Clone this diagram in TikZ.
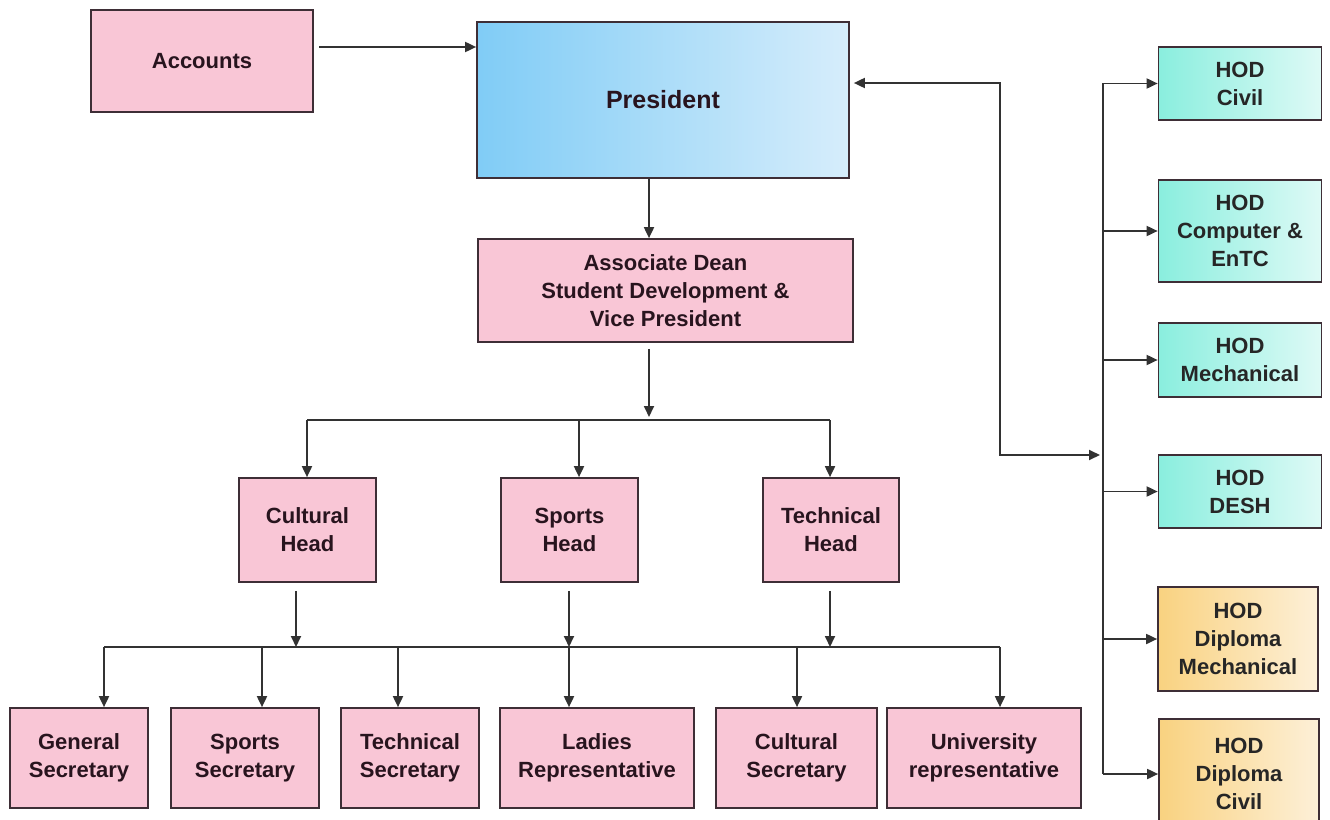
\documentclass[tikz,border=0pt]{standalone}
\usepackage{fontspec}
\setmainfont{Liberation Sans}
\usetikzlibrary{
    arrows.meta,
    positioning,
    calc
}
\definecolor{pinkbox}{RGB}{249,198,214}
\definecolor{edge}{RGB}{62,46,54}
\definecolor{ink}{RGB}{40,20,30}
\definecolor{wire}{RGB}{50,50,50}
\definecolor{presA}{RGB}{128,204,246}
\definecolor{presB}{RGB}{214,237,251}
\definecolor{hodA}{RGB}{138,238,222}
\definecolor{hodB}{RGB}{222,250,246}
\definecolor{dipA}{RGB}{249,210,128}
\definecolor{dipB}{RGB}{253,240,216}

\begin{document}
\begin{tikzpicture}[
        x=1pt, y=-1pt,
        box/.style={draw=edge, line width=1.7pt, fill=pinkbox, align=center, text=ink,
            inner sep=0pt, font=\bfseries\fontsize{22}{28}\selectfont},
        hod/.style={box, left color=hodA, right color=hodB, minimum width=163, text=black!85},
        dip/.style={box, left color=dipA, right color=dipB, minimum width=160, text=black!85},
        wire/.style={draw=wire, line width=1.8pt},
        arr/.style={wire, -{Triangle[length=11pt,width=10pt]}},
        twoway/.style={wire, {Triangle[length=11pt,width=10pt]}-{Triangle[length=11pt,width=10pt]}}
    ]
        \useasboundingbox (0,0) rectangle (1330,819);

        % Top
        \node[box, minimum width=222, minimum height=102] (acc) at (202,61) {Accounts};
        \node[box, left color=presA, right color=presB, minimum width=372, minimum height=156,
            font=\bfseries\fontsize{25}{30}\selectfont] (pres) at (663,100) {President};
        \node[box, minimum width=375, minimum height=103] (ad) at (665.5,290.5)
            {Associate Dean\\Student Development \&\\Vice President};

        % Heads
        \node[box, minimum width=137, minimum height=104] (cult) at (307.5,530) {Cultural\\Head};
        \node[box, minimum width=137, minimum height=104] (sport) at (569.5,530) {Sports\\Head};
        \node[box, minimum width=136, minimum height=104] (tech) at (831,530) {Technical\\Head};

        % Secretaries
        \node[box, minimum width=138, minimum height=100] (gs) at (79,758) {General\\Secretary};
        \node[box, minimum width=148, minimum height=100] (ss) at (245,758) {Sports\\Secretary};
        \node[box, minimum width=138, minimum height=100] (ts) at (410,758) {Technical\\Secretary};
        \node[box, minimum width=194, minimum height=100] (lr) at (597,758) {Ladies\\Representative};
        \node[box, minimum width=161, minimum height=100] (cs) at (796.5,758) {Cultural\\Secretary};
        \node[box, minimum width=194, minimum height=100] (ur) at (984,758) {University\\representative};

        % HODs
        \node[hod, minimum height=73] (civ) at (1240,83.5) {HOD\\Civil};
        \node[hod, minimum height=102] (comp) at (1240,231) {HOD\\Computer \&\\EnTC};
        \node[hod, minimum height=74] (mech) at (1240,360) {HOD\\Mechanical};
        \node[hod, minimum height=73] (desh) at (1240,491.5) {HOD\\DESH};
        \node[dip, minimum height=104] (dmech) at (1238,639) {HOD\\Diploma\\Mechanical};
        \node[dip, minimum height=110] (dciv) at (1239,774) {HOD\\Diploma\\Civil};

        % Accounts to President
        \coordinate (accout) at (319,47);
        \draw[arr] (accout) -- (accout -| pres.west);

        % President down to the heads
        \coordinate (pd) at (649,420);
        \draw[arr] (pres.south -| pd) -- (ad.north -| pd);
        \draw[arr, shorten <=6pt] (ad.south -| pd) -- ([yshift=3pt]pd);
        \coordinate (hl) at (307,420);
        \coordinate (hm) at (579,420);
        \coordinate (hr) at (830,420);
        \draw[wire] (hl) -- (hr);
        \draw[arr] (hl) -- (hl |- cult.north);
        \draw[arr] (hm) -- (hm |- sport.north);
        \draw[arr] (hr) -- (hr |- tech.north);

        % Heads down to the secretaries
        \coordinate (c1) at (296,647);
        \coordinate (c2) at (569,647);
        \coordinate (c3) at (830,647);
        \foreach \c/\h in {c1/cult, c2/sport, c3/tech} {
            \draw[arr, shorten <=8pt] (\h.south -| \c) -- (\c);
        }
        \coordinate (d1) at (104,647);
        \coordinate (d2) at (262,647);
        \coordinate (d3) at (398,647);
        \coordinate (d5) at (797,647);
        \coordinate (d6) at (1000,647);
        \draw[wire] (d1) -- (d6);
        \foreach \d/\n in {d1/gs, d2/ss, d3/ts, c2/lr, d5/cs, d6/ur} {
            \draw[arr] (\d) -- (\d |- \n.north);
        }

        % President and the HODs
        \coordinate (rt) at (1000,83);
        \coordinate (rb) at (1000,455);
        \coordinate (bt) at (1103,83);
        \draw[twoway, shorten <=4pt] (pres.east |- rt) -- (rt) -- (rb) -- ([xshift=-3pt]rb -| bt);
        \draw[wire] (bt) -- (bt |- dciv.west);
        \foreach \n in {civ, comp, mech, desh, dmech, dciv} {
            \draw[arr] (bt |- \n.west) -- (\n.west);
        }
    \end{tikzpicture}
\end{document}
